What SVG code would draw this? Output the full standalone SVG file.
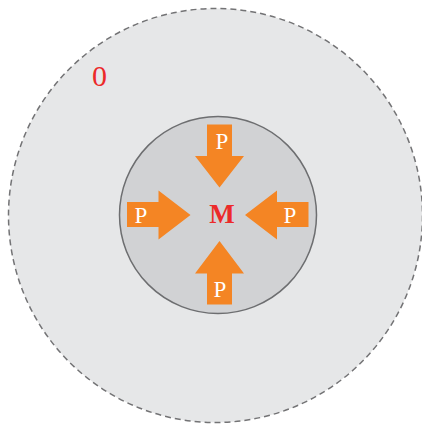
<svg xmlns="http://www.w3.org/2000/svg" width="422" height="425" viewBox="0 0 422 425">
<style>
.arrow{fill:#f48524}
.p{font-family:"Liberation Serif",serif;font-size:23px;fill:#ffffff;text-anchor:middle}
.red{font-family:"Liberation Serif",serif;fill:#ec2a2a;text-anchor:middle}
</style>
<rect width="422" height="425" fill="#ffffff"/>
<g id="outer">
<circle cx="215.5" cy="215.5" r="207" fill="#e6e7e8" stroke="#737375" stroke-width="1.5" stroke-dasharray="6,4"/>
<text class="red" x="99.5" y="86" font-size="30">0</text>
</g>
<g id="inner">
<circle cx="218" cy="215" r="98.5" fill="#d1d2d4" stroke="#6d6e70" stroke-width="1.5"/>
</g>
<g id="arrows">
<g id="arrow-top">
<polygon class="arrow" points="207,124.5 232,124.5 232,156 244,156 219.5,187.5 195,156 207,156"/>
<text class="p" x="222" y="148.5">P</text>
</g>
<g id="arrow-bottom">
<polygon class="arrow" points="207,304.5 232,304.5 232,273.5 244,273.5 219.5,241 195,273.5 207,273.5"/>
<text class="p" x="220" y="296.5">P</text>
</g>
<g id="arrow-left">
<polygon class="arrow" points="127,202 158.5,202 158.5,190.5 190.5,215 158.5,239.5 158.5,227 127,227"/>
<text class="p" x="141" y="223">P</text>
</g>
<g id="arrow-right">
<polygon class="arrow" points="308.5,202 277,202 277,190.5 245,215 277,239.5 277,227 308.5,227"/>
<text class="p" x="290" y="223">P</text>
</g>
</g>
<g id="center">
<text class="red" x="222" y="223" font-size="27" font-weight="bold">M</text>
</g>
</svg>
